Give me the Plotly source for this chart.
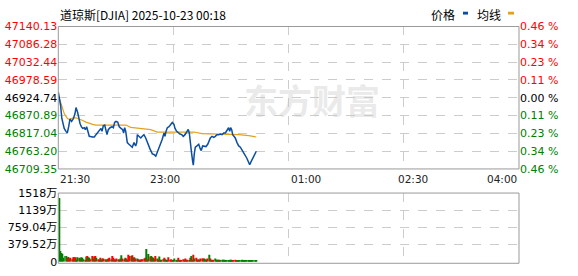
import plotly.graph_objects as go

W, H = 578, 276
def px(x): return x / W
def py(y): return 1 - y / H

# ---------------- data ----------------
title_text = "道琼斯[DJIA] 2025-10-23 00:18"
time_labels = ["21:30", "23:00", "01:00", "02:30", "04:00"]
time_label_pos = [0, 90, 210, 300, 390]          # minutes after 21:30
session_minutes = 390
grid_x = [97.5, 195, 292.5]

price_ticks = ["47140.13", "47086.28", "47032.44", "46978.59", "46924.74",
               "46870.89", "46817.04", "46763.20", "46709.35"]
pct_ticks = ["0.46 %", "0.34 %", "0.23 %", "0.11 %", "0.00 %",
             "0.11 %", "0.23 %", "0.34 %", "0.46 %"]
vol_tick_vals = [0, 379.52, 759.04, 1138.56, 1518.08]
vol_tick_text = ["0", "379.52万", "759.04万", "1139万", "1518万"]

price_t = [0, 1, 2, 3, 5, 6.5, 7.6, 8.8, 9.9, 11.3, 12.7, 14.1, 15, 16.4, 17.3, 18.4,
           19.5, 20.6, 22, 22.9, 24, 25.1, 26.2, 29.1, 30.5, 31.9, 33.3, 34.7, 36.1,
           37, 38.1, 39.3, 40.4, 41.2, 42.3, 43.8, 45.5, 46.6, 47.7, 48.8, 50.3, 51.6,
           53.1, 54.5, 55.3, 56.2, 57.1, 58.4, 59.8, 61.3, 62.6, 64.1, 65.5, 66.4,
           66.9, 68.3, 69.8, 71.1, 72.5, 74, 75.3, 76.8, 77.6, 79.6, 81, 82.5, 83.8,
           85.2, 86.7, 88, 89.5, 90.3, 91.2, 92.3, 93.7, 95.1, 96.5, 97.9, 98.8,
           100.2, 101.6, 103, 104.5, 105.8, 107.3, 108.7, 110, 110.9, 112.1, 112.9,
           113.8, 114.3, 115.1, 116, 117.4, 118.9, 120.2, 121, 122.2, 123.6, 125,
           126.5, 127.8, 128.7, 130.1, 131.6, 132.9, 134.3, 135.8, 137.1, 138.6, 140,
           141.4, 142.8, 144.2, 145.1, 145.9, 146.8, 147.6, 148.7, 149.8, 151.3,
           152.7, 154.1, 155.5, 156.9, 158.3, 159.7, 161.2, 162, 162.9, 164, 165.4,
           166.8, 167.6]
price_v = [46942, 46925, 46900, 46862, 46832, 46823, 46818, 46837, 46861, 46853, 46861,
           46876, 46895, 46880, 46861, 46847, 46837, 46832, 46834, 46828, 46837, 46818,
           46808, 46806, 46806, 46813, 46820, 46828, 46832, 46823, 46840, 46842, 46825,
           46813, 46828, 46834, 46837, 46834, 46850, 46853, 46851, 46837, 46832, 46828,
           46818, 46834, 46823, 46789, 46784, 46779, 46775, 46789, 46779, 46789, 46813,
           46808, 46803, 46808, 46813, 46803, 46789, 46779, 46770, 46755, 46753, 46748,
           46760, 46775, 46784, 46799, 46818, 46808, 46823, 46834, 46837, 46842, 46850,
           46844, 46832, 46823, 46818, 46815, 46813, 46808, 46813, 46823, 46829, 46818,
           46789, 46755, 46731, 46721, 46755, 46775, 46779, 46784, 46770, 46765, 46779,
           46779, 46777, 46784, 46794, 46803, 46808, 46805, 46808, 46813, 46813, 46815,
           46813, 46818, 46818, 46828, 46834, 46823, 46834, 46828, 46813, 46808, 46803,
           46789, 46779, 46775, 46765, 46755, 46750, 46741, 46731, 46722, 46729, 46736,
           46746, 46755, 46763]

avg_t = [0, 2.3, 3.7, 5.1, 6.5, 8, 9.3, 12.2, 15, 17.8, 20.7, 23.4, 26.2, 29.1, 31.9,
         37.6, 57.3, 61.3, 69.8, 78.2, 83.8, 97.9, 114.9, 121.6, 141.4, 152.7, 161.2,
         166.8, 167.6]
avg_v = [46933, 46909, 46890, 46876, 46868, 46861, 46859, 46863, 46864, 46861, 46856,
         46851, 46847, 46844, 46842, 46842, 46842, 46835, 46832, 46828, 46821, 46821,
         46821, 46816, 46815, 46813, 46810, 46808, 46806]

# volume per minute (万), direction r = up, g = down
volume = [1410, 238, 190, 175, 84, 126, 126, 84, 105, 70, 84, 56, 98, 98, 98, 42, 98, 84,
          70, 98, 84, 56, 42, 112, 126, 98, 84, 56, 126, 70, 112, 126, 84, 56, 42, 84, 42,
          70, 70, 56, 42, 56, 70, 84, 56, 126, 84, 56, 42, 70, 56, 42, 70, 140, 70, 56, 84,
          70, 42, 154, 126, 126, 140, 84, 98, 70, 70, 56, 42, 42, 56, 56, 70, 84, 280, 56,
          168, 112, 126, 98, 84, 56, 126, 70, 42, 112, 42, 42, 56, 84, 56, 42, 28, 98, 42,
          56, 28, 14, 70, 28, 42, 84, 28, 42, 28, 56, 42, 70, 42, 42, 28, 84, 126, 42, 154,
          70, 84, 42, 56, 28, 70, 70, 70, 70, 56, 42, 70, 154, 70, 42, 28, 42, 70, 42, 42,
          42, 42, 28, 42, 42, 42, 28, 28, 28, 28, 42, 42, 28, 28, 42, 28, 28, 28, 28, 28,
          42, 28, 28, 28, 28, 28, 28, 28, 28, 28, 28, 28, 28]
direction = ("ggggggg" "rgrrgrrrgggrgggrgrggrrgrrgrrrgg" "rrggrrgrrgrrgrggrrgr"
             "grrgrrgrgrrgrrrrgrgrgrggrgrgrgrrgggrrrrggggrrgrrrrgrgrgrrgrrr"
             "grrrgggrgrgrrggggrgggggggggggrrr")

# ---------------- styles ----------------
RED, GREEN, DARK = "#ff0000", "#008000", "#000000"
LINE_BLUE, AVG_GOLD = "#0b4ea2", "#e3a21a"
FONT = "DejaVu Sans, Noto Sans CJK SC"

n = len(volume)
direction = (direction + "g" * n)[:n]
bar_colors = [RED if d == "r" else GREEN for d in direction]
bar_x = [i + 0.5 for i in range(n)]   # each bar spans its own minute

def colored(labels, mid):
    out = []
    for i, s in enumerate(labels):
        c = RED if i < mid else (DARK if i == mid else GREEN)
        out.append(f'<span style="color:{c}">{s}</span>')
    return out

fig = go.Figure()
fig.add_trace(go.Scatter(x=avg_t, y=avg_v, mode="lines",
                         line=dict(color=AVG_GOLD, width=1.2), xaxis="x", yaxis="y",
                         hoverinfo="skip"))
fig.add_trace(go.Scatter(x=price_t, y=price_v, mode="lines",
                         line=dict(color=LINE_BLUE, width=1.5), xaxis="x", yaxis="y",
                         hoverinfo="skip"))
fig.add_trace(go.Scatter(x=[0], y=[float(price_ticks[4])], mode="markers",
                         marker=dict(opacity=0), xaxis="x", yaxis="y2",
                         hoverinfo="skip"))
fig.add_trace(go.Bar(x=bar_x, y=volume, marker=dict(color=bar_colors, line_width=0),
                     xaxis="x2", yaxis="y3", hoverinfo="skip"))

xd = [px(58.3), px(519)]
pvals = [float(s) for s in price_ticks]
grid = dict(showgrid=True, gridcolor="#cccccc", griddash="dash", gridwidth=1)

fig.update_layout(
    width=W, height=H, margin=dict(l=0, r=0, t=0, b=0),
    paper_bgcolor="white", plot_bgcolor="white", showlegend=False,
    bargap=0.15,
    font=dict(family=FONT, size=11, color=DARK),
    xaxis=dict(domain=xd, range=[0, session_minutes], tickvals=grid_x,
               showticklabels=False, zeroline=False, ticks="", **grid),
    yaxis=dict(domain=[py(171), py(21.5)], range=[pvals[-1], pvals[0]],
               tickvals=pvals, ticktext=colored(price_ticks, 4), zeroline=False,
               ticks="", **grid),
    yaxis2=dict(overlaying="y", side="right", range=[pvals[-1], pvals[0]],
                tickvals=pvals, ticktext=colored(pct_ticks, 4), showgrid=False,
                zeroline=False, ticks=""),
    xaxis2=dict(domain=xd, range=[0, session_minutes], tickvals=grid_x, anchor="y3",
                showticklabels=False, zeroline=False, ticks="", **grid),
    yaxis3=dict(domain=[py(268.3), py(196.3)], range=[0, vol_tick_vals[-1]],
                tickvals=vol_tick_vals, ticktext=vol_tick_text, anchor="x2",
                zeroline=False, ticks="", **grid),
)

shapes = [
    dict(type="rect", xref="paper", yref="paper", x0=px(58.3), x1=px(519),
         y0=py(171), y1=py(21.5), line=dict(color="#999999", width=1)),
    dict(type="rect", xref="paper", yref="paper", x0=px(58.3), x1=px(519),
         y0=py(270), y1=py(196.3), line=dict(color="#999999", width=1)),
    dict(type="rect", xref="paper", yref="paper", x0=px(463), x1=px(468),
         y0=py(9), y1=py(6), fillcolor="#0b4ea2", line_width=0),
    dict(type="rect", xref="paper", yref="paper", x0=px(508), x1=px(514),
         y0=py(9), y1=py(6), fillcolor="#e3a21a", line_width=0),
]
fig.update_layout(shapes=shapes)

ann = []
for lab, pos in zip(time_labels, time_label_pos):
    xa = "left" if pos == 0 else ("right" if pos == session_minutes else "center")
    ann.append(dict(x=pos, xref="x", y=py(182), yref="paper", text=lab, showarrow=False,
                    xanchor=xa, yanchor="middle", font=dict(size=10.5, color="#222")))
ann.append(dict(x=px(58), y=py(8.5), xref="paper", yref="paper", text=title_text,
                showarrow=False, xanchor="left", yanchor="middle",
                font=dict(family="Noto Sans CJK SC", size=12, color=DARK)))
ann.append(dict(x=px(443), y=py(8.5), xref="paper", yref="paper", text="价格",
                showarrow=False, xanchor="center", yanchor="middle",
                font=dict(family="Noto Sans CJK SC", size=12, color=DARK)))
ann.append(dict(x=px(489), y=py(8.5), xref="paper", yref="paper", text="均线",
                showarrow=False, xanchor="center", yanchor="middle",
                font=dict(family="Noto Sans CJK SC", size=12, color=DARK)))
ann.append(dict(x=px(312), y=py(98), xref="paper", yref="paper", text="<b>东方财富</b>",
                showarrow=False, xanchor="center", yanchor="middle",
                font=dict(family="Noto Sans CJK SC", size=34, color="rgba(200,200,200,0.4)")))
fig.update_layout(annotations=ann)

fig.write_html("out.html")
